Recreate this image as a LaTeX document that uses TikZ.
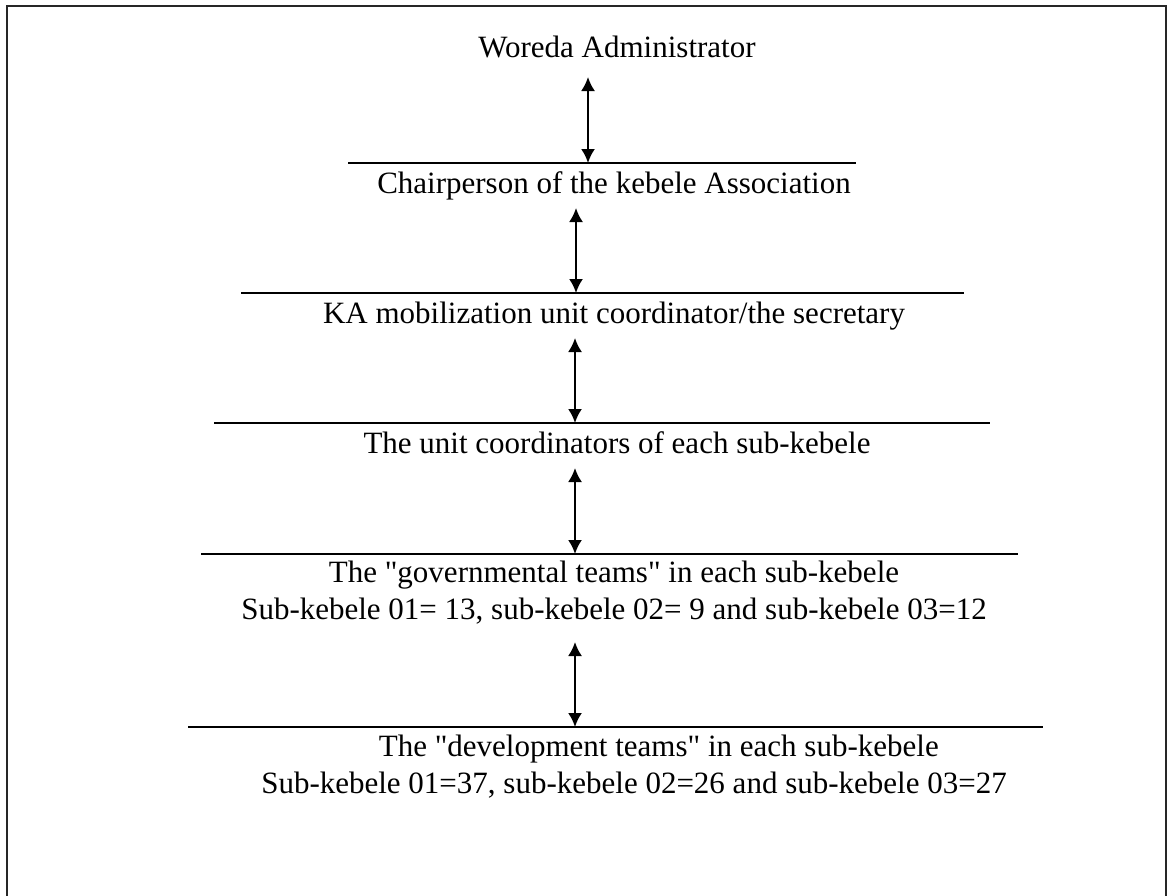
\documentclass[tikz,border=0pt]{standalone}
\usepackage{fontspec}
\setmainfont{Liberation Serif}[Ligatures=TeXOff]
\usetikzlibrary{arrows.meta}
\begin{document}
\begin{tikzpicture}[x=0.5pt,y=-0.5pt,line width=1pt,>={Latex[length=7pt,width=7pt]}]
	\tikzstyle{level}=[inner sep=0pt,anchor=base,align=center,font=\fontsize{15.5}{18.5}\selectfont]
	\tikzstyle{bar}=[line width=1pt]
	\tikzstyle{link}=[<->,line width=1pt]

\useasboundingbox (0,0) rectangle (1167,895);
\draw[line width=1pt,black!85] (7,6) rectangle (1166,910);

\node[level](woreda) at (617,57){Woreda Administrator};
\node[level](chair) at (614,193){Chairperson of the kebele Association};
\node[level](kasec) at (614,323){KA mobilization unit coordinator/the secretary};
\node[level](unit) at (617,453){The unit coordinators of each sub-kebele};
\node[level](gov) at (614,619){The "governmental teams" in each sub-kebele\\Sub-kebele 01= 13, sub-kebele 02= 9 and sub-kebele 03=12};
\node[level](dev) at (634,793){\hspace*{1.6em}The "development teams" in each sub-kebele\\Sub-kebele 01=37, sub-kebele 02=26 and sub-kebele 03=27};

\coordinate (b1w) at (348,163);
\coordinate (b1e) at (856,163);
\coordinate (b2w) at (241,293);
\coordinate (b2e) at (964,293);
\coordinate (b3w) at (214,423);
\coordinate (b3e) at (990,423);
\coordinate (b4w) at (201,554);
\coordinate (b4e) at (1018,554);
\coordinate (b5w) at (188,727);
\coordinate (b5e) at (1043,727);

\draw[bar] (b1w) -- (b1e);
\draw[bar] (b2w) -- (b2e);
\draw[bar] (b3w) -- (b3e);
\draw[bar] (b4w) -- (b4e);
\draw[bar] (b5w) -- (b5e);

\coordinate (a1) at (588,77);
\coordinate (a2) at (576,208);
\coordinate (a3) at (575,338);
\coordinate (a4) at (575,468);
\coordinate (a5) at (575,642);

\draw[link] (a1) -- (a1 |- b1w);
\draw[link] (a2) -- (a2 |- b2w);
\draw[link] (a3) -- (a3 |- b3w);
\draw[link] (a4) -- (a4 |- b4w);
\draw[link] (a5) -- (a5 |- b5w);

\end{tikzpicture}
\end{document}
